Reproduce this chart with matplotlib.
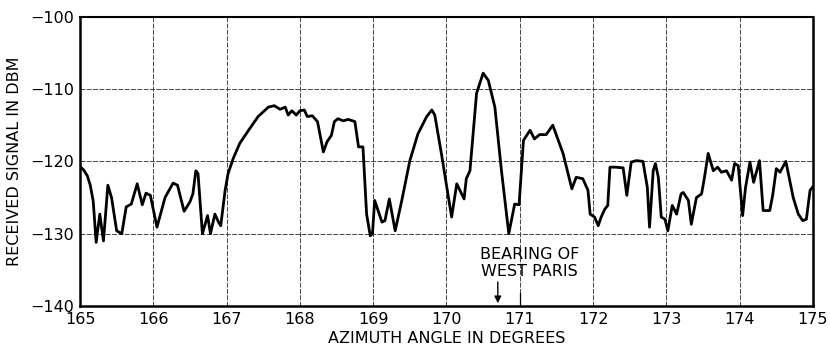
import matplotlib
matplotlib.use("Agg")
import matplotlib.pyplot as plt

# Received signal versus azimuth angle
azimuth = [
    165.00, 165.05, 165.10, 165.14, 165.18, 165.22, 165.27, 165.32, 165.38, 165.43,
    165.50, 165.57, 165.63, 165.70, 165.78, 165.85, 165.90, 165.96, 166.05, 166.16,
    166.27, 166.33, 166.42, 166.50, 166.54, 166.58, 166.61, 166.67, 166.74, 166.78,
    166.84, 166.89, 166.92, 166.98, 167.02, 167.09, 167.18, 167.30, 167.43, 167.57,
    167.65, 167.73, 167.80, 167.84, 167.89, 167.95, 168.00, 168.06, 168.10, 168.17,
    168.24, 168.32, 168.37, 168.43, 168.47, 168.52, 168.59, 168.66, 168.75, 168.80,
    168.86, 168.91, 168.96, 168.99, 169.02, 169.12, 169.16, 169.22, 169.30, 169.39,
    169.50, 169.61, 169.73, 169.80, 169.84, 169.93, 170.07, 170.14, 170.24, 170.27,
    170.32, 170.41, 170.50, 170.57, 170.66, 170.75, 170.85, 170.93, 170.99, 171.05,
    171.14, 171.20, 171.27, 171.36, 171.45, 171.59, 171.71, 171.77, 171.86, 171.93,
    171.96, 172.02, 172.07, 172.11, 172.16, 172.20, 172.23, 172.30, 172.41, 172.46,
    172.52, 172.59, 172.68, 172.74, 172.77, 172.82, 172.85, 172.89, 172.93, 172.98,
    173.02, 173.08, 173.14, 173.20, 173.23, 173.30, 173.34, 173.41, 173.48, 173.52,
    173.57, 173.64, 173.70, 173.75, 173.82, 173.89, 173.93, 173.98, 174.04, 174.08,
    174.14, 174.19, 174.27, 174.32, 174.41, 174.45, 174.50, 174.55, 174.63, 174.73,
    174.80, 174.86, 174.91, 174.96, 175.00,
]
signal_dbm = [
    -120.7, -121.2, -122.0, -123.3, -125.5, -131.2, -127.3, -131.0, -123.3, -125.0,
    -129.6, -130.0, -126.3, -125.9, -123.1, -126.0, -124.4, -124.7, -129.1, -125.0,
    -123.0, -123.3, -126.9, -125.6, -124.5, -121.3, -121.7, -130.0, -127.5, -130.0,
    -127.3, -128.4, -128.9, -124.0, -121.7, -119.6, -117.5, -115.7, -113.8, -112.5,
    -112.3, -112.8, -112.5, -113.6, -113.0, -113.6, -113.0, -112.9, -113.8, -113.7,
    -114.5, -118.7, -117.3, -116.4, -114.5, -114.1, -114.4, -114.2, -114.5, -118.0,
    -118.0, -127.3, -130.3, -130.0, -125.4, -128.4, -128.2, -125.2, -129.6, -125.4,
    -119.9, -116.2, -113.8, -112.9, -113.6, -118.9, -127.7, -123.1, -125.2, -122.4,
    -121.3, -110.6, -107.8, -108.8, -112.5, -121.3, -130.0, -125.9, -126.0, -117.1,
    -115.7, -116.9, -116.3, -116.3, -115.0, -118.9, -123.8, -122.2, -122.4, -124.0,
    -127.3, -127.7, -128.9, -127.7, -126.6, -126.1, -120.8, -120.8, -120.9, -124.7,
    -120.1, -119.9, -120.0, -123.6, -129.1, -121.3, -120.3, -122.2, -127.7, -128.0,
    -129.6, -126.1, -127.3, -124.5, -124.3, -125.4, -128.7, -125.0, -124.5, -122.2,
    -118.9, -121.3, -120.8, -121.5, -121.3, -122.6, -120.3, -120.6, -127.5, -123.6,
    -120.1, -122.9, -119.9, -126.8, -126.8, -124.7, -121.0, -121.5, -120.0, -125.0,
    -127.3, -128.2, -128.0, -124.0, -123.5,
]

x_ticks = [165, 166, 167, 168, 169, 170, 171, 172, 173, 174, 175]
y_ticks = [-140, -130, -120, -110, -100]
y_tick_labels = ["\u2212140", "\u2212130", "\u2212120", "\u2212110", "\u2212100"]

bearing_deg = 170.7
bearing_text = "BEARING OF\nWEST PARIS"

plt.rcParams["font.family"] = ["DejaVu Sans"]

fig = plt.figure(figsize=(8.30, 3.46), dpi=100)
ax = fig.add_axes([0.0964, 0.1156, 0.8831, 0.8361])

ax.plot(azimuth, signal_dbm, color="black", lw=2.0,
        solid_joinstyle="round", solid_capstyle="round")

ax.set_xlim(165, 175)
ax.set_ylim(-140, -100)
ax.set_xticks(x_ticks)
ax.set_xticklabels([str(t) for t in x_ticks])
ax.set_yticks(y_ticks)
ax.set_yticklabels(y_tick_labels)
ax.tick_params(length=0, labelsize=11.5, pad=4)
ax.grid(True, color="#444444", lw=0.7, ls=(0, (5, 1.5)))

for side in ["left", "bottom", "right", "top"]:
    ax.spines[side].set_linewidth(1.8)
ax.spines["top"].set_linewidth(1.5)

ax.set_xlabel("AZIMUTH ANGLE IN DEGREES", fontsize=11.5, labelpad=3)
ax.set_ylabel("RECEIVED SIGNAL IN DBM", fontsize=11.5, labelpad=6)

ax.text(171.13, -134.0, bearing_text, ha="center", va="center",
        fontsize=11.5, linespacing=1.15)
ax.annotate("", xy=(bearing_deg, -140), xytext=(bearing_deg, -136.3),
            arrowprops=dict(arrowstyle="-|>", color="black", lw=1.0,
                            mutation_scale=10))
ax.plot([171.0, 171.0], [-140, -138.2], color="black", lw=0.9)

fig.savefig("out.png", dpi=100)
